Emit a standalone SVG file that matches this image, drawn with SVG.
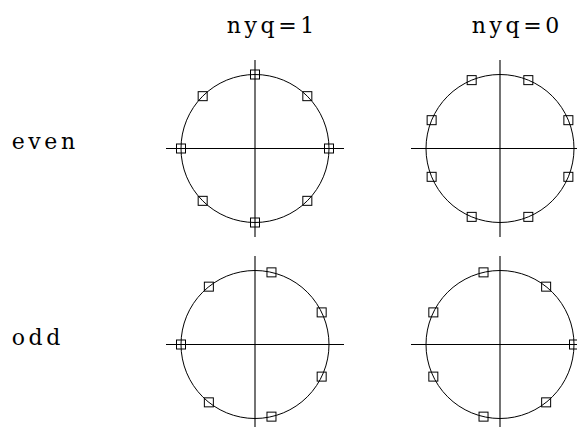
<svg xmlns="http://www.w3.org/2000/svg" xmlns:xlink="http://www.w3.org/1999/xlink" width="577" height="427" viewBox="0 0 577 427">
<style>
.lbl{font-family:"DejaVu Serif","Liberation Serif",serif;font-size:22px;letter-spacing:3.6px;fill:#000}
.circ{fill:none;stroke:#000;stroke-width:1}
.ax{stroke:#000;stroke-width:1.1}
.mk{fill:none;stroke:#000;stroke-width:1}
</style>
<defs>
<rect id="m" x="-4.5" y="-4.5" width="9" height="9" class="mk"/>
</defs>
<rect width="577" height="427" fill="#fff"/>
<g id="labels">
<text class="lbl" x="226.7" y="33">nyq=1</text>
<text class="lbl" x="471.7" y="33">nyq=0</text>
<text class="lbl" x="11.7" y="149">even</text>
<text class="lbl" x="11.7" y="345">odd</text>
</g>
<g id="p1">
<circle class="circ" cx="255" cy="148.5" r="74"/>
<line class="ax" x1="166" y1="148.5" x2="344" y2="148.5"/>
<line class="ax" x1="255" y1="60" x2="255" y2="237"/>
<use xlink:href="#m" x="255" y="74.5"/>
<use xlink:href="#m" x="255" y="222.5"/>
<use xlink:href="#m" x="181" y="148.5"/>
<use xlink:href="#m" x="329" y="148.5"/>
<use xlink:href="#m" x="202.67" y="96.17"/>
<use xlink:href="#m" x="307.33" y="96.17"/>
<use xlink:href="#m" x="202.67" y="200.83"/>
<use xlink:href="#m" x="307.33" y="200.83"/>
</g>
<g id="p2">
<circle class="circ" cx="500" cy="148.5" r="74"/>
<line class="ax" x1="411" y1="148.5" x2="589" y2="148.5"/>
<line class="ax" x1="500" y1="60" x2="500" y2="237"/>
<use xlink:href="#m" x="471.68" y="80.13"/>
<use xlink:href="#m" x="528.32" y="80.13"/>
<use xlink:href="#m" x="471.68" y="216.87"/>
<use xlink:href="#m" x="528.32" y="216.87"/>
<use xlink:href="#m" x="431.63" y="120.18"/>
<use xlink:href="#m" x="568.37" y="120.18"/>
<use xlink:href="#m" x="431.63" y="176.82"/>
<use xlink:href="#m" x="568.37" y="176.82"/>
</g>
<g id="p3">
<circle class="circ" cx="255" cy="344.5" r="74"/>
<line class="ax" x1="166" y1="344.5" x2="344" y2="344.5"/>
<line class="ax" x1="255" y1="256" x2="255" y2="433"/>
<use xlink:href="#m" x="181" y="344.5"/>
<use xlink:href="#m" x="208.86" y="286.65"/>
<use xlink:href="#m" x="208.86" y="402.35"/>
<use xlink:href="#m" x="271.47" y="272.36"/>
<use xlink:href="#m" x="271.47" y="416.64"/>
<use xlink:href="#m" x="321.67" y="312.39"/>
<use xlink:href="#m" x="321.67" y="376.61"/>
</g>
<g id="p4">
<circle class="circ" cx="500" cy="344.5" r="74"/>
<line class="ax" x1="411" y1="344.5" x2="589" y2="344.5"/>
<line class="ax" x1="500" y1="256" x2="500" y2="433"/>
<use xlink:href="#m" x="574" y="344.5"/>
<use xlink:href="#m" x="546.14" y="286.65"/>
<use xlink:href="#m" x="546.14" y="402.35"/>
<use xlink:href="#m" x="483.53" y="272.36"/>
<use xlink:href="#m" x="483.53" y="416.64"/>
<use xlink:href="#m" x="433.33" y="312.39"/>
<use xlink:href="#m" x="433.33" y="376.61"/>
</g>
</svg>
